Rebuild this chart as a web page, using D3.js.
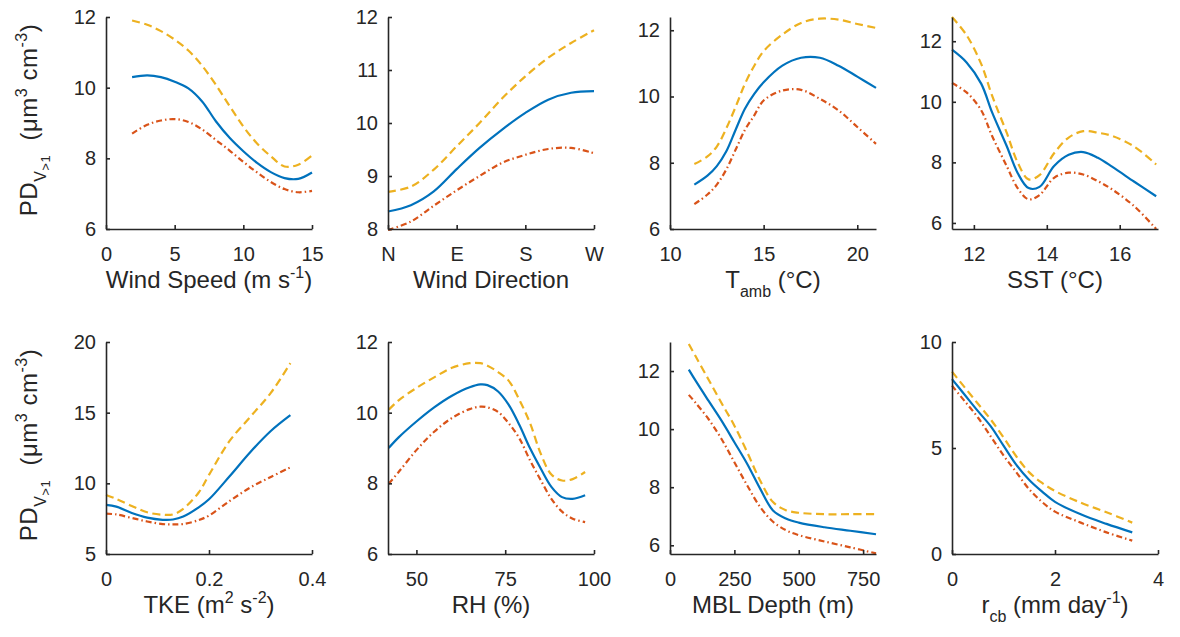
<!DOCTYPE html>
<html>
<head>
<meta charset="utf-8">
<script src="https://cdn.jsdelivr.net/npm/d3@7"></script>
<style>
  body { margin: 0; background: #fff; }
  svg text { font-family: "Liberation Sans", Arial, sans-serif; fill: #262626; white-space: pre; }
</style>
</head>
<body>
<svg id="chart" width="1180" height="637"></svg>
<script>
// ---- data ----
// wind speed (m s-1)
var windSpeedX = [1.9, 3, 4, 5, 6, 7, 8, 9, 10, 11, 12, 13, 14, 15];
var windSpeedMean = [10.30, 10.35, 10.3, 10.17, 9.98, 9.61, 9.05, 8.58, 8.2, 7.87, 7.61, 7.44, 7.42, 7.6];
var windSpeedUpper = [11.9, 11.78, 11.6, 11.36, 11.05, 10.62, 10.08, 9.48, 8.9, 8.42, 8.06, 7.77, 7.82, 8.08];
var windSpeedLower = [8.7, 8.95, 9.07, 9.11, 9.03, 8.82, 8.52, 8.22, 7.9, 7.6, 7.33, 7.13, 7.04, 7.08];

// wind direction (deg, N=0)
var windDirX = [0, 30, 60, 90, 120, 150, 180, 210, 240, 270];
var windDirMean = [8.33, 8.45, 8.71, 9.13, 9.53, 9.88, 10.19, 10.44, 10.57, 10.6];
var windDirUpper = [8.7, 8.8, 9.12, 9.56, 10.0, 10.47, 10.88, 11.23, 11.51, 11.75];
var windDirLower = [7.98, 8.14, 8.44, 8.73, 9.0, 9.25, 9.4, 9.51, 9.53, 9.43];
var windDirTicks = [0, 90, 180, 270];
var windDirNames = ["N", "E", "S", "W"];

// ambient temperature
var tambX = [11.3, 12, 12.5, 13, 13.5, 14, 14.5, 15, 16, 17, 18, 19, 20, 21];
var tambMean = [7.34, 7.61, 7.9, 8.34, 8.99, 9.63, 10.08, 10.43, 10.93, 11.17, 11.17, 10.93, 10.6, 10.26];
var tambUpper = [7.96, 8.19, 8.49, 9.03, 9.68, 10.38, 10.93, 11.37, 11.87, 12.22, 12.35, 12.32, 12.19, 12.07];
var tambLower = [6.75, 7.04, 7.34, 7.79, 8.39, 8.99, 9.43, 9.88, 10.18, 10.2, 9.93, 9.58, 9.08, 8.57];

// sea surface temperature
var sstX = [11.4, 11.8, 12.2, 12.5, 12.9, 13.2, 13.5, 13.8, 14.2, 14.6, 15, 15.4, 15.8, 16.4, 17];
var sstMean = [11.72, 11.3, 10.6, 9.65, 8.54, 7.65, 7.15, 7.19, 7.88, 8.25, 8.34, 8.15, 7.85, 7.36, 6.88];
var sstUpper = [12.8, 12.2, 11.25, 10.2, 8.98, 8.0, 7.44, 7.58, 8.3, 8.82, 9.03, 8.98, 8.87, 8.52, 7.93];
var sstLower = [10.62, 10.31, 9.72, 8.87, 7.88, 7.15, 6.78, 6.92, 7.49, 7.66, 7.6, 7.38, 7.1, 6.55, 5.8];

// turbulent kinetic energy
var tkeX = [0, 0.02, 0.05, 0.08, 0.11, 0.13, 0.15, 0.18, 0.2, 0.24, 0.28, 0.32, 0.358];
var tkeMean = [8.47, 8.35, 7.9, 7.57, 7.42, 7.44, 7.65, 8.3, 8.87, 10.5, 12.2, 13.7, 14.82];
var tkeUpper = [9.18, 8.9, 8.4, 7.95, 7.78, 7.8, 8.2, 9.35, 10.6, 13.0, 14.7, 16.4, 18.5];
var tkeLower = [7.85, 7.8, 7.55, 7.3, 7.12, 7.09, 7.12, 7.4, 7.72, 8.75, 9.7, 10.45, 11.13];

// relative humidity
var rhX = [42.2, 45, 50, 55, 60, 65, 68, 70, 73, 76, 79, 82, 85, 88, 91, 94, 97.5];
var rhMean = [9.0, 9.3, 9.75, 10.15, 10.48, 10.72, 10.8, 10.78, 10.6, 10.22, 9.65, 8.99, 8.42, 7.9, 7.61, 7.56, 7.66];
var rhUpper = [10.08, 10.35, 10.7, 11.0, 11.27, 11.4, 11.4, 11.33, 11.15, 10.9, 10.36, 9.7, 8.84, 8.25, 8.08, 8.12, 8.32];
var rhLower = [7.99, 8.32, 8.94, 9.46, 9.85, 10.1, 10.17, 10.15, 10.02, 9.7, 9.27, 8.65, 8.09, 7.56, 7.2, 7.0, 6.9];

// MBL depth
var mblX = [73, 100, 150, 200, 250, 300, 350, 400, 450, 500, 600, 700, 800];
var mblMean = [12.05, 11.66, 10.97, 10.29, 9.55, 8.8, 7.95, 7.2, 6.92, 6.78, 6.62, 6.5, 6.38];
var mblUpper = [12.93, 12.5, 11.7, 10.9, 10.12, 9.2, 8.23, 7.49, 7.21, 7.12, 7.07, 7.07, 7.07];
var mblLower = [11.18, 10.9, 10.34, 9.66, 8.86, 8.06, 7.32, 6.81, 6.52, 6.35, 6.13, 5.93, 5.72];

// cloud base rain rate
var rcbX = [0, 0.25, 0.5, 0.75, 1, 1.25, 1.5, 1.75, 2, 2.5, 3, 3.5];
var rcbMean = [8.25, 7.5, 6.75, 6.03, 5.11, 4.2, 3.49, 2.94, 2.46, 1.87, 1.42, 1.02];
var rcbUpper = [8.6, 7.85, 7.1, 6.35, 5.5, 4.6, 3.85, 3.35, 2.97, 2.42, 1.97, 1.48];
var rcbLower = [7.94, 7.2, 6.45, 5.55, 4.65, 3.85, 3.05, 2.45, 2.0, 1.48, 1.02, 0.63];

// axis labels, as [text, kind] pieces
var xLabels = [
  [["Wind Speed (m s", ""], ["-1", "sup"], [")", ""]],
  [["Wind Direction", ""]],
  [["T", ""], ["amb", "sub"], [" (°C)", ""]],
  [["SST (°C)", ""]],
  [["TKE (m", ""], ["2", "sup"], [" s", ""], ["-2", "sup"], [")", ""]],
  [["RH (%)", ""]],
  [["MBL Depth (m)", ""]],
  [["r", ""], ["cb", "sub"], [" (mm day", ""], ["-1", "sup"], [")", ""]]
];
var yLabel = [["PD", ""], ["V", "sub"], [">1", "subsub"], ["  (", ""], ["μm", ""], ["3", "sup"], [" cm", ""], ["-3", "sup"], [")", ""]];

// ---- layout ----
var colX = [106, 388, 670, 952];
var rowY = [17, 342];
var pw = 206, ph = 212;
var ink = "#262626";
var colors = { mean: "#0072BD", lower: "#D95319", upper: "#EDB120" };

var panels = [
  { x: windSpeedX, mean: windSpeedMean, upper: windSpeedUpper, lower: windSpeedLower, xd: [0, 15], xt: [0, 5, 10, 15], yd: [6, 12], yt: [6, 8, 10, 12] },
  { x: windDirX, mean: windDirMean, upper: windDirUpper, lower: windDirLower, xd: [0, 270], xt: windDirTicks, xf: function(d) { return windDirNames[windDirTicks.indexOf(d)]; }, yd: [8, 12], yt: [8, 9, 10, 11, 12] },
  { x: tambX, mean: tambMean, upper: tambUpper, lower: tambLower, xd: [10, 21], xt: [10, 15, 20], yd: [6, 12.4], yt: [6, 8, 10, 12] },
  { x: sstX, mean: sstMean, upper: sstUpper, lower: sstLower, xd: [11.4, 17.05], xt: [12, 14, 16], yd: [5.8, 12.8], yt: [6, 8, 10, 12] },
  { x: tkeX, mean: tkeMean, upper: tkeUpper, lower: tkeLower, xd: [0, 0.4], xt: [0, 0.2, 0.4], yd: [5, 20], yt: [5, 10, 15, 20] },
  { x: rhX, mean: rhMean, upper: rhUpper, lower: rhLower, xd: [42, 100], xt: [50, 75, 100], yd: [6, 12], yt: [6, 8, 10, 12] },
  { x: mblX, mean: mblMean, upper: mblUpper, lower: mblLower, xd: [0, 800], xt: [0, 250, 500, 750], yd: [5.7, 13], yt: [6, 8, 10, 12] },
  { x: rcbX, mean: rcbMean, upper: rcbUpper, lower: rcbLower, xd: [0, 4], xt: [0, 2, 4], yd: [0, 10], yt: [0, 5, 10] }
];

var svg = d3.select("#chart");

function richText(sel, parts, big, small) {
  var cur = 0;
  parts.forEach(function(p) {
    var off = 0, size = big;
    if (p[1] === "sup") { off = -10; size = small; }
    if (p[1] === "sub") { off = 9; size = small; }
    if (p[1] === "subsub") { off = 13; size = small - 3; }
    sel.append("tspan").attr("dy", off - cur).style("font-size", size + "px").text(p[0]);
    cur = off;
  });
}

panels.forEach(function(p, i) {
  var x0 = colX[i % 4], y0 = rowY[Math.floor(i / 4)];
  var g = svg.append("g").attr("transform", "translate(" + x0 + "," + y0 + ")");

  var x = d3.scaleLinear().domain(p.xd).range([0, pw]);
  var y = d3.scaleLinear().domain(p.yd).range([ph, 0]);

  var line = function(vals) {
    return d3.line()
      .x(function(d, k) { return x(p.x[k]); })
      .y(function(d) { return y(d); })
      .curve(d3.curveCatmullRom.alpha(0.5))(vals);
  };

  g.append("path").attr("d", line(p.mean)).attr("fill", "none")
    .attr("stroke", colors.mean).attr("stroke-width", 2.2);
  g.append("path").attr("d", line(p.lower)).attr("fill", "none")
    .attr("stroke", colors.lower).attr("stroke-width", 2.2).attr("stroke-dasharray", "6,3,1.5,3");
  g.append("path").attr("d", line(p.upper)).attr("fill", "none")
    .attr("stroke", colors.upper).attr("stroke-width", 2.2).attr("stroke-dasharray", "8,4.5");

  var fmt = p.xf || function(d) { return String(d); };
  var xAxis = g.append("g").attr("transform", "translate(0," + ph + ")")
    .call(d3.axisBottom(x).tickValues(p.xt).tickFormat(fmt).tickSize(-4).tickSizeOuter(0).tickPadding(18));
  var yAxis = g.append("g")
    .call(d3.axisLeft(y).tickValues(p.yt).tickFormat(function(d) { return String(d); }).tickSize(-4).tickSizeOuter(0).tickPadding(10));

  [xAxis, yAxis].forEach(function(a) {
    a.select(".domain").attr("stroke", ink).attr("stroke-width", 1.6);
    a.selectAll(".tick line").attr("stroke", ink).attr("stroke-width", 1.6);
    a.selectAll(".tick text").attr("fill", ink).style("font-size", "20px")
      .style("font-family", "'Liberation Sans', Arial, sans-serif");
  });

  var xl = g.append("text").attr("x", pw / 2).attr("y", ph + 59).attr("text-anchor", "middle")
    .style("font-size", "24px");
  richText(xl, xLabels[i], 24, 16);

  if (i % 4 === 0) {
    var yl = svg.append("text")
      .attr("transform", "translate(37," + (y0 + ph / 2 - 3) + ") rotate(-90)")
      .attr("text-anchor", "middle").style("font-size", "24px").style("letter-spacing", "0.5px");
    richText(yl, yLabel, 24, 16);
  }
});
</script>
</body>
</html>
